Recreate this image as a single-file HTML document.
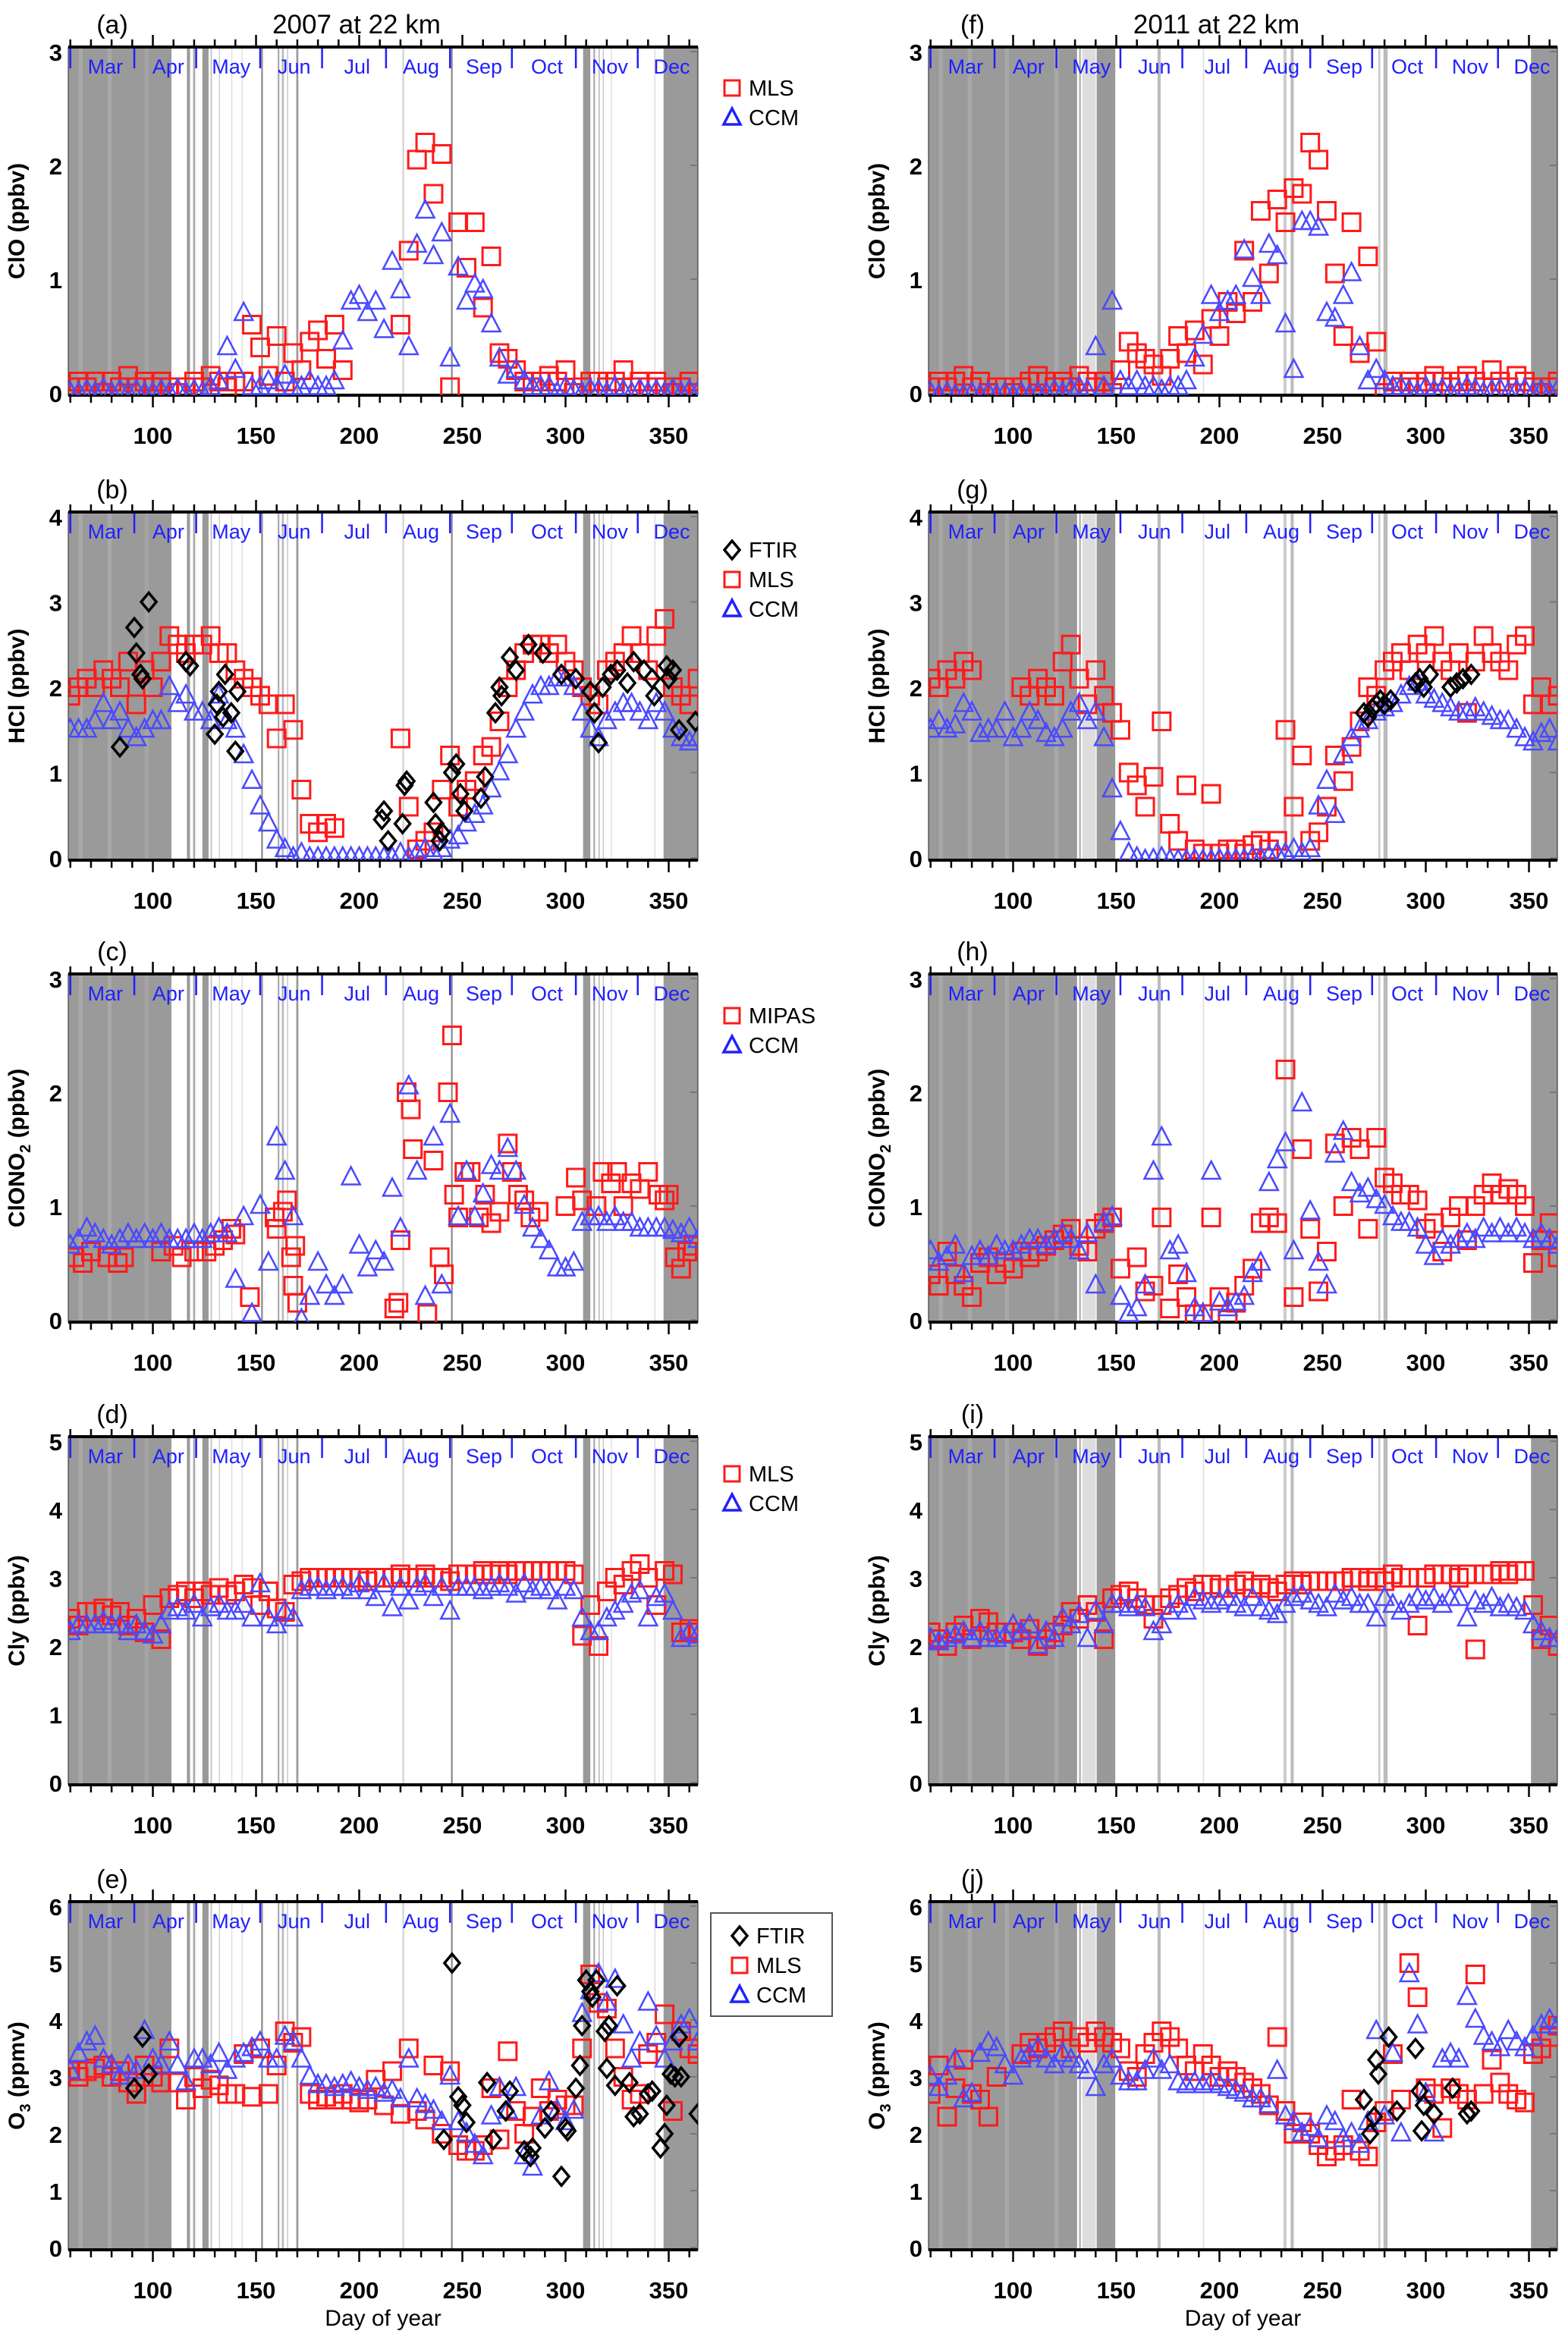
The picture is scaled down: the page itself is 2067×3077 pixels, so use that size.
<!DOCTYPE html>
<html><head><meta charset="utf-8">
<style>
html,body{margin:0;padding:0;background:#fff;}
svg{display:block;font-family:"Liberation Sans",sans-serif;}
</style></head>
<body>
<svg id="fig" xmlns="http://www.w3.org/2000/svg" width="2067" height="3077" viewBox="0 0 2067 3077">
<rect x="0" y="0" width="2067" height="3077" fill="#fff"/>
<g id="root"></g>
</svg>
<script>
// ---------- data (days start 60, step 4) ----------
const dayStart = 60;
const dayStep = 4;
// (a) ClO 2007
const cloMls07 = [0.05,0.1,0.05,0.1,0,0.1,0.05,0.15,0.05,0.1, 0.05,0.1,0.05,0,0.05,0.1,0.05,0.15,0.1,0.05, 0.1,0.1,0.6,0.4,0.15,0.5,0.1,0.35,0.2,0.45, 0.55,0.3,0.6,0.2,null,null,null,null,null,null, 0.6,1.25,2.05,2.2,1.75,2.1,0.05,1.5,1.1,1.5, 0.75,1.2,0.35,0.3,0.2,0.1,0.05,0.1,0.15,0.1, 0.2,0.0,0.05,0.1,0.1,0.05,0.1,0.2,0.05,0.1, 0.05,0.1,0.05,0.0,0.05,0.1,0.0];
const cloCcm07 = [0,0,0.02,0,0.03,0,0.02,0,0.02,0, 0,0.02,0,0.03,0,0.02,0,0.05,0.1,0.4, 0.2,0.7,0.05,0.05,0.1,0.05,0.15,0.05,0.05,0.1, 0.05,0.05,0.1,0.45,0.8,0.85,0.7,0.8,0.55,1.15, 0.9,0.4,1.3,1.6,1.2,1.4,0.3,1.1,0.8,0.95, 0.9,0.6,0.3,0.15,0.2,0.1,0.05,0.05,0.05,0, 0.05,0.02,0,0.03,0.02,0,0.05,0.02,0,0.03, 0,0.02,0,0.03,0,0.02,0];
// (b) HCl 2007
const hclMls07 = [1.9,2.0,2.1,2.0,2.2,2.1,2.0,2.3,1.8,2.2, 2.0,2.3,2.6,2.5,2.4,2.5,2.5,2.6,2.4,2.4, 2.2,2.1,2.0,1.9,1.8,1.4,1.8,1.5,0.8,0.4, 0.3,0.4,0.35,null,null,null,null,null,null,null, 1.4,0.6,0.1,0.2,0.3,0.8,1.2,0.6,0.8,0.9, 1.2,1.3,1.6,2.0,2.2,2.4,2.5,2.5,2.4,2.5, 2.3,2.2,2.0,1.9,1.8,2.2,2.3,2.4,2.6,2.4, 2.2,2.6,2.8,2.0,1.9,1.8,2.1];
const hclCcm07 = [1.5,1.5,1.5,1.6,1.8,1.6,1.7,1.5,1.4,1.5, 1.6,1.6,2.0,1.8,1.9,1.7,1.7,1.6,1.9,1.6, 1.5,1.2,0.9,0.6,0.4,0.2,0.1,0.0,0.05,0.0, 0,0,0,0,0,0,0,0,0,0, 0.05,0,0.05,0.1,0.05,0.1,0.2,0.25,0.4,0.5, 0.6,0.8,1.0,1.2,1.5,1.7,1.9,2.0,2.0,2.1, 2.1,2.0,1.7,1.5,1.4,1.6,1.7,1.8,1.8,1.7, 1.6,1.8,1.7,1.5,1.4,1.35,1.4];
const hclFtirDays07 = [84,91,92,94,95,98,116,118,130,131,132,134,135,138,140,141,211,212,214,221,222,223,236,237,239,240,245,247,249,251,259,261,266,268,269,273,276,282,289,298,305,312,314,316,318,322,325,330,333,338,342,343,349,350,352,355,363];
const hclFtirVals07 = [1.3,2.7,2.4,2.15,2.1,3.0,2.3,2.25,1.45,1.8,1.95,1.65,2.15,1.7,1.25,1.95,0.45,0.55,0.2,0.4,0.85,0.9,0.65,0.4,0.2,0.3,1.0,1.1,0.75,0.55,0.7,0.95,1.7,2.0,1.9,2.35,2.2,2.5,2.4,2.15,2.1,1.95,1.7,1.35,2.0,2.15,2.2,2.05,2.3,2.2,2.1,1.9,2.25,2.1,2.2,1.5,1.6];
// (c) ClONO2 2007
const cnMipasDays07 = [62,66,70,78,83,86,104,110,114,120,126,130,134,138,140,147,159,160,163,165,167,168,169,170,217,219,220,223,225,226,233,236,239,241,243,245,246,248,251,254,258,261,264,268,272,274,277,280,283,287,300,305,308,315,318,322,325,328,332,336,340,345,348,350,353,356,359,362];
const cnMipasVals07 = [0.55,0.5,0.6,0.55,0.5,0.55,0.6,0.65,0.55,0.6,0.6,0.65,0.7,0.8,0.75,0.2,0.9,0.8,0.95,1.05,0.55,0.3,0.65,0.15,0.1,0.15,0.7,2.0,1.85,1.5,0.05,1.4,0.55,0.4,2.0,2.5,1.1,0.9,1.3,1.3,0.9,1.1,0.85,0.95,1.55,1.3,1.1,1.05,0.9,0.95,1.0,1.25,1.05,1.0,1.3,1.2,1.3,1.0,1.2,1.15,1.3,1.1,1.05,1.1,0.55,0.45,0.6,0.65];
const cnCcm07 = [0.65,0.7,0.8,0.75,0.7,0.65,0.7,0.75,0.7,0.75, 0.7,0.75,0.7,0.7,0.7,0.75,0.7,0.75,0.8,0.75, 0.35,0.9,0.05,1.0,0.5,1.6,1.3,0.9,0.0,0.2, 0.5,0.3,0.2,0.3,1.25,0.65,0.45,0.6,0.5,1.15, 0.8,2.05,1.3,0.2,1.6,0.3,1.8,0.9,1.3,0.9, 1.1,1.35,1.3,1.5,1.3,1.0,0.8,0.7,0.6,0.45, 0.45,0.5,0.85,0.9,0.9,0.85,0.9,0.85,0.85,0.8, 0.8,0.8,0.8,0.78,0.75,0.8,0.7];
// (d) Cly 2007
const clyMls07 = [2.4,2.3,2.5,2.5,2.55,2.45,2.5,2.3,2.4,2.2, 2.6,2.1,2.7,2.75,2.8,2.7,2.8,2.75,2.85,2.75, 2.8,2.9,2.85,2.6,2.8,2.55,2.5,2.9,2.95,3.0, 3.0,3.0,3.0,3.0,3.0,3.0,2.95,3.0,3.0,3.0, 3.05,3.0,3.0,3.05,3.0,3.0,2.95,3.05,3.05,3.05, 3.1,3.05,3.1,3.05,3.1,3.1,3.1,3.1,3.1,3.1, 3.1,3.05,2.15,2.6,2.0,2.8,3.0,2.9,3.1,3.2, 3.0,2.6,3.1,3.05,2.2,2.25,2.2];
const clyCcm07 = [2.2,2.3,2.3,2.3,2.35,2.3,2.3,2.2,2.3,2.2, 2.15,2.3,2.5,2.55,2.5,2.6,2.4,2.55,2.6,2.5, 2.5,2.6,2.4,2.9,2.4,2.3,2.5,2.4,2.8,2.85, 2.85,2.8,2.85,2.85,2.8,2.9,2.8,2.7,2.9,2.55, 2.85,2.65,2.85,2.9,2.7,2.85,2.5,2.85,2.85,2.85, 2.8,2.85,2.9,2.85,2.75,2.9,2.8,2.85,2.8,2.65, 2.85,2.8,2.4,2.2,2.2,2.4,2.5,2.6,2.75,2.8, 2.4,2.7,2.75,2.5,2.1,2.2,2.15];
// (e) O3 2007
const o3Mls07 = [3.1,3.0,3.1,3.15,3.2,3.0,3.1,2.9,2.7,3.2, 3.0,2.9,3.5,2.9,2.6,3.0,2.8,2.95,2.85,2.7, 2.7,3.4,2.65,3.5,2.7,3.2,3.8,3.6,3.7,2.7, 2.6,2.65,2.6,2.7,2.6,2.55,2.6,2.95,2.5,3.1, 2.35,3.5,2.4,2.25,3.2,2.0,3.1,1.8,1.7,1.7, 1.8,2.8,1.9,3.45,2.4,2.0,2.3,2.8,2.4,2.6, 2.5,2.5,3.5,4.8,4.3,4.2,3.5,3.0,2.6,2.7, 3.4,3.6,4.1,2.4,3.8,3.5,3.4];
const o3Ccm07 = [3.1,3.4,3.6,3.7,3.3,3.2,3.0,3.2,3.1,3.8, 3.3,3.2,3.6,3.2,2.9,3.3,3.3,3.2,3.4,3.1, 3.3,3.4,3.5,3.6,3.3,3.3,3.7,3.6,3.3,3.0, 2.85,2.85,2.8,2.85,2.9,2.8,2.75,2.8,2.7,2.75, 2.6,3.3,2.6,2.5,2.4,2.2,3.0,2.2,2.0,1.8, 1.6,2.3,2.8,2.4,2.8,1.6,1.4,2.3,2.9,2.4, 2.2,2.4,4.1,4.5,4.8,4.3,4.7,3.9,3.3,3.6, 4.3,3.7,3.3,3.6,3.9,4.0,3.6];
const o3FtirDays07 = [91,95,98,245,241,248,250,252,262,265,273,271,280,283,284,290,293,298,300,301,305,307,308,310,312,313,315,319,320,321,324,325,331,333,336,340,342,346,348,349,351,353,355,356,364];
const o3FtirVals07 = [2.8,3.7,3.05,5.0,1.9,2.65,2.5,2.2,2.9,1.9,2.75,2.4,1.7,1.6,1.75,2.1,2.4,1.25,2.1,2.05,2.8,3.2,3.9,4.7,4.5,4.4,4.7,3.8,3.15,3.9,2.85,4.6,2.9,2.3,2.35,2.7,2.75,1.75,2.0,2.5,3.05,3.0,3.7,3.0,2.35];
// (f) ClO 2011
const cloMls11 = [0.05,0.1,0.05,0.1,0.15,0.05,0.1,0,0.05,0.05, 0,0.05,0.1,0.15,0.1,0.05,0.1,0.05,0.15,0.1, 0.05,0.1,0.0,0.2,0.45,0.35,0.3,0.25,0.15,0.3, 0.5,0.35,0.55,0.25,0.65,0.5,0.8,0.7,1.25,0.8, 1.6,1.05,1.7,1.5,1.8,1.75,2.2,2.05,1.6,1.05, 0.5,1.5,0.35,1.2,0.45,0.0,0.1,0.05,0.1,0.05, 0.1,0.15,0.1,0.05,0.1,0.15,0.1,0.05,0.2,0.1, 0.05,0.15,0.1,0.05,0.0,0.05,0.1];
const cloCcm11 = [0,-0.02,0,-0.02,-0.02,0,-0.02,0,-0.02,0, -0.02,0,-0.02,0,0,0.02,0,0.03,0.05,0.02, 0.4,0.05,0.8,0.1,0.05,0.1,0.05,0.05,0.02,0.05, 0.05,0.1,0.3,0.5,0.85,0.7,0.8,0.85,1.25,1.0, 0.85,1.3,1.2,0.6,0.2,1.5,1.5,1.45,0.7,0.65, 0.85,1.05,0.4,0.1,0.2,0.1,0.05,0.05,0.02,0, 0.05,0.02,0.03,0,0.02,0.05,0.03,0,0.02,0.03, 0,0.02,0.03,0,0.02,0,0.03];
// (g) HCl 2011
const hclMls11 = [2.1,2.0,2.2,2.1,2.3,2.2,null,null,null,null, null,2.0,1.9,2.1,2.0,1.9,2.3,2.5,2.1,1.8, 2.2,1.9,1.7,1.5,1.0,0.85,0.6,0.95,1.6,0.4, 0.2,0.85,0.1,0.05,0.75,0.05,0.1,0.1,0.05,0.15, 0.2,0.1,0.2,1.5,0.6,1.2,0.2,0.3,0.6,1.2, 0.9,1.3,1.6,2.0,1.9,2.2,2.3,2.4,2.2,2.5, 2.4,2.6,2.3,2.2,2.4,1.7,2.3,2.6,2.4,2.3, 2.2,2.5,2.6,1.8,2.0,1.8,1.9];
const hclCcm11 = [1.5,1.6,1.5,1.55,1.8,1.7,1.45,1.5,1.5,1.7, 1.4,1.5,1.7,1.6,1.45,1.4,1.5,1.7,1.8,1.6, 1.7,1.4,0.8,0.3,0.05,0.0,-0.03,-0.02,0,-0.03, -0.03,-0.03,-0.02,-0.03,-0.03,-0.02,-0.03,-0.02,-0.02,0, 0,0.02,0.05,0.05,0.1,0.05,0.1,0.6,0.9,0.5, 1.2,1.4,1.5,1.6,1.7,1.75,1.8,1.9,2.0,2.05, 1.9,1.85,1.8,1.75,1.7,1.7,1.75,1.7,1.65,1.6, 1.6,1.5,1.4,1.35,1.45,1.5,1.35];
const hclFtirDays11 = [270,272,274,276,278,280,283,295,297,299,302,312,315,318,322];
const hclFtirVals11 = [1.7,1.65,1.75,1.8,1.85,1.8,1.85,2.05,2.1,2.0,2.15,2.0,2.05,2.1,2.15];
// (h) ClONO2 2011
const cnMls11 = [0.4,0.3,0.6,0.4,0.3,0.2,0.5,0.55,0.4,0.5, 0.45,0.6,0.55,0.6,0.65,0.7,0.75,0.8,0.65,0.6, 0.8,0.85,0.9,0.45,null,0.55,0.25,0.3,0.9,0.1, 0.4,0.2,0.05,0.05,0.9,0.2,0.0,0.15,0.3,0.45, 0.85,0.9,0.85,2.2,0.2,1.5,0.8,0.25,0.6,1.55, 1.0,1.6,1.5,0.8,1.6,1.25,1.2,1.1,1.1,1.05, 0.8,0.85,0.6,0.9,1.0,0.7,1.0,1.1,1.2,1.1, 1.15,1.1,1.0,0.5,0.7,0.85,0.55];
const cnCcm11 = [0.6,0.5,0.55,0.65,0.4,0.55,0.6,0.55,0.65,0.6, 0.6,0.65,0.7,0.7,0.65,0.7,0.75,0.7,0.6,0.75, 0.3,0.85,0.9,0.2,0.05,0.1,0.3,1.3,1.6,0.6, 0.65,0.4,0.1,0.05,1.3,0.15,0.1,0.15,0.2,0.4, 0.5,1.2,1.4,1.55,0.6,1.9,0.95,0.5,0.3,1.45, 1.65,1.2,1.1,1.15,1.05,1.0,0.9,0.85,0.85,0.8, 0.65,0.55,0.7,0.65,0.7,0.75,0.7,0.8,0.75,0.8, 0.75,0.8,0.75,0.7,0.75,0.7,0.65];
// (i) Cly 2011
const clyMls11 = [2.2,2.1,2.0,2.2,2.3,2.1,2.4,2.35,2.2,2.2, 2.2,2.1,2.25,2.0,2.1,2.2,2.3,2.5,2.4,2.6, 2.5,2.1,2.7,2.75,2.8,2.7,2.6,2.4,2.6,2.7, 2.75,2.85,2.8,2.9,2.9,2.85,2.85,2.9,2.95,2.85, 2.9,2.85,2.8,2.9,2.95,2.9,2.95,2.95,2.95,2.95, 2.95,3.0,3.0,2.95,3.0,2.95,3.05,3.0,3.0,2.3, 3.0,3.05,3.05,3.05,3.0,3.05,1.95,3.05,3.05,3.1, 3.05,3.1,3.1,2.6,2.1,2.3,2.0];
const clyCcm11 = [2.1,2.05,2.1,2.15,2.2,2.1,2.2,2.1,2.1,2.15, 2.3,2.2,2.3,2.0,2.2,2.1,2.4,2.3,2.45,2.1, 2.5,2.3,2.6,2.6,2.55,2.6,2.55,2.2,2.3,2.5, 2.6,2.5,2.7,2.65,2.6,2.65,2.7,2.6,2.55,2.7, 2.55,2.5,2.45,2.6,2.7,2.75,2.65,2.6,2.55,2.75, 2.65,2.7,2.6,2.6,2.4,2.7,2.6,2.5,2.6,2.7, 2.65,2.7,2.6,2.7,2.7,2.4,2.65,2.6,2.7,2.55, 2.6,2.55,2.5,2.3,2.2,2.1,2.1];
// (j) O3 2011
const o3Mls11 = [2.7,3.2,2.3,2.8,3.3,2.7,2.6,2.3,3.0,null, null,3.4,3.6,3.5,3.6,3.7,3.8,3.5,3.7,3.6, 3.8,3.7,3.6,3.5,3.1,3.0,3.4,3.6,3.8,3.7, 3.5,3.2,3.1,3.4,3.2,3.0,3.1,3.0,2.9,2.8, 2.7,2.5,3.7,2.4,2.0,2.2,2.0,1.8,1.6,1.7, 1.8,2.6,1.7,1.6,2.2,2.4,3.4,2.6,5.0,4.4, 2.8,2.7,2.1,2.8,2.7,2.6,4.8,2.7,3.3,2.9, 2.7,2.6,2.55,3.4,3.5,3.7,3.9];
const o3Ccm11 = [3.0,2.8,3.0,3.3,2.6,2.7,3.4,3.6,3.5,3.2, 3.0,3.3,3.4,3.5,3.3,3.2,3.4,3.3,3.2,3.1, 2.8,3.2,3.3,3.0,2.9,2.9,3.1,3.3,3.1,3.2, 2.9,2.85,2.9,2.85,2.9,2.85,2.8,2.75,2.7,2.6, 2.6,2.5,3.1,2.3,2.2,2.0,2.1,1.9,2.3,2.2, 1.9,2.0,1.8,2.2,3.8,2.3,3.4,2.0,4.8,3.9, 2.7,2.0,3.3,3.4,3.3,4.4,4.0,3.7,3.6,3.5, 3.8,3.6,3.5,3.7,3.9,4.0,3.9];
const o3FtirDays11 = [270,273,275,276,277,282,286,295,297,298,299,304,313,320,322];
const o3FtirVals11 = [2.6,2.0,2.3,3.3,3.05,3.7,2.4,3.5,2.75,2.05,2.5,2.35,2.8,2.35,2.4];

// ---------- axis / month config ----------
const xTickLabels = [100,150,200,250,300,350];
const monthStarts = [60,91,121,152,182,213,244,274,305,335,365];
const monthNames = ["Mar","Apr","May","Jun","Jul","Aug","Sep","Oct","Nov","Dec"];
const shade07 = [[59,109,'#9a9a9a'],[64,66,'#a8a8a8'],[78,80,'#a8a8a8'],[96,98,'#a4a4a4'],[116.5,118,'#999'],[119.5,120.5,'#aaa'],[124,127,'#999'],[128,128.6,'#bbb'],[132,132.5,'#ccc'],[138,138.5,'#ddd'],[143,143.5,'#ddd'],[152.5,153.3,'#888'],[160.5,161.3,'#aaa'],[162.5,163.5,'#bbb'],[165,165.6,'#ccc'],[169.5,170.5,'#999'],[221,221.7,'#ccc'],[244.5,245.3,'#888'],[308.5,312,'#999'],[313.5,314.3,'#aaa'],[316,316.6,'#bbb'],[318,318.6,'#ccc'],[322,322.5,'#ddd'],[343,343.6,'#ddd'],[347.5,366,'#9a9a9a']];
const shade11 = [[59,131,'#9a9a9a'],[64,66,'#a8a8a8'],[78,80,'#a8a8a8'],[96,98,'#a8a8a8'],[120,122,'#a8a8a8'],[132,132.8,'#aaa'],[133.5,140,'#ddd'],[140.5,149.5,'#999'],[170,171.5,'#bbb'],[192,192.6,'#ddd'],[231,232.5,'#ccc'],[234.5,236,'#bbb'],[277,278,'#ccc'],[279.5,281.5,'#bbb'],[351,366,'#9a9a9a']];

const NS = "http://www.w3.org/2000/svg";
const root = document.getElementById('root');
function mk(tag, attrs, parent){
  const e = document.createElementNS(NS, tag);
  for (const k in attrs) e.setAttribute(k, attrs[k]);
  (parent||root).appendChild(e);
  return e;
}
const rowTops = [62,675,1284,1894,2507];
const PH = 459;
const cols = [{x0:90,x1:920},{x0:1224,x1:2053}];
const PXD = 2.72;

function seqDays(n){ const d=[]; for(let i=0;i<n;i++) d.push(dayStart+i*dayStep); return d; }

function panel(opt){
  const c = cols[opt.col], T = rowTops[opt.row], B = T+PH;
  const xs = d => c.x0 + (d-59)*PXD;
  const ys = v => T + 6 + (opt.max - v)/opt.max*450;
  const g = mk('g', {});
  
  
  const cp = 'clip-'+opt.id;
  const cpe = mk('clipPath', {id:cp}, g);
  mk('rect', {x:c.x0, y:T, width:c.x1-c.x0, height:PH}, cpe);
  const sg = mk('g', {'clip-path':'url(#'+cp+')'}, g);
  
  
  for (const s of opt.shade){
    const r = mk('rect', {x:xs(s[0]), y:T, width:Math.max(1,(s[1]-s[0])*PXD), height:PH, fill:s[2]}, sg);
    
    
  }
  for (let i=0;i<monthStarts.length;i++){
    const xm = xs(monthStarts[i]);
    if (monthStarts[i] < 365){
      const l = mk('line', {x1:xm, y1:T+2, x2:xm, y2:T+28, stroke:'#2020ff', 'stroke-width':2.5}, g);
      
      
    }
    if (i < monthNames.length){
      const t = mk('text', {x:xs((monthStarts[i]+monthStarts[i+1])/2)+4, y:T+35, fill:'#2020ff', 'font-size':27, 'text-anchor':'middle'}, g);
      t.textContent = monthNames[i];
      
      
    }
  }
  const fr = mk('rect', {x:c.x0, y:T, width:c.x1-c.x0, height:PH, fill:'none', stroke:'#222', 'stroke-width':1}, g);
  
  
  const tl = mk('line', {x1:c.x0, y1:T, x2:c.x1, y2:T, stroke:'#000', 'stroke-width':4}, g);
  
  
  const bl = mk('line', {x1:c.x0, y1:B, x2:c.x1, y2:B, stroke:'#000', 'stroke-width':4}, g);
  
  
  for (let d=60; d<=360; d+=10){
    const maj = d%50===0, len = maj?16:10, xx = xs(d);
    const t1 = mk('line', {x1:xx, y1:T, x2:xx, y2:T-len, stroke:'#000', 'stroke-width':2.5}, g);
    
    
    const t2 = mk('line', {x1:xx, y1:B, x2:xx, y2:B+len, stroke:'#000', 'stroke-width':2.5}, g);
    
    
  }
  for (const v of xTickLabels){
    const t = mk('text', {x:xs(v), y:B+64, 'font-size':31, 'font-weight':'bold', 'text-anchor':'middle'}, g);
    t.textContent = v;
    
    
  }
  for (let v=0; v<=opt.max; v++){
    const t = mk('text', {x:c.x0-8, y:ys(v)+12, 'font-size':31, 'font-weight':'bold', 'text-anchor':'end'}, g);
    t.textContent = v;
    
    
    const tk = mk('line', {x1:c.x1, y1:ys(v), x2:c.x1-10, y2:ys(v), stroke:'#777', 'stroke-width':2}, g);
    
    
  }
  const yt = mk('text', {x:0, y:0, 'font-size':30, 'font-weight':'bold', 'text-anchor':'middle', transform:'translate('+(c.x0-58)+','+(T+PH/2)+') rotate(-90)'}, g);
  yt.innerHTML = opt.ylab;
  
  
  const pl = mk('text', {x:c.x0+58, y:T-18, 'font-size':34, 'text-anchor':'middle'}, g);
  pl.textContent = '('+opt.id+')';
  
  
  if (opt.title){
    const tt = mk('text', {x:(c.x0+c.x1)/2-35, y:T-18, 'font-size':35, 'text-anchor':'middle'}, g);
    tt.textContent = opt.title;
    
    
  }
  if (opt.xlab){
    const xl = mk('text', {x:(c.x0+c.x1)/2, y:B+100, 'font-size':30, 'text-anchor':'middle'}, g);
    xl.textContent = 'Day of year';
    
    
  }
  const mg = mk('g', {'clip-path':'url(#'+cp+')'}, g);
  
  
  function sq(d,v){ const s=mk('rect',{x:xs(d)-11.5,y:ys(v)-11.5,width:23,height:23,fill:'none',stroke:'#ff1a1a','stroke-width':3},mg);
    
     }
  function tri(d,v){ const x=xs(d),y=ys(v); const p=mk('polygon',{points:(x)+','+(y-14)+' '+(x-12)+','+(y+9)+' '+(x+12)+','+(y+9),fill:'none',stroke:'#4a4aff','stroke-width':2.5},mg);
    
     }
  function dia(d,v){ const x=xs(d),y=ys(v); const p=mk('polygon',{points:x+','+(y-12)+' '+(x+10)+','+y+' '+x+','+(y+12)+' '+(x-10)+','+y,fill:'none',stroke:'#000','stroke-width':3.5},mg);
    
     }
  if (opt.red){ const dd = opt.redDays || seqDays(opt.red.length); opt.red.forEach((v,i)=>{ if(v!==null) sq(dd[i],v); }); }
  if (opt.blue){ const dd = seqDays(opt.blue.length); opt.blue.forEach((v,i)=>{ if(v!==null) tri(dd[i],v); }); }
  if (opt.black){ opt.black.forEach((v,i)=>dia(opt.blackDays[i],v)); }
  if (opt.legend){
    const lg = mk('g', {}, g);
    
    
    let ly = T + opt.legend.y0, lx = opt.legend.x;
    if (opt.legend.box){
      const bx = mk('rect', {x:937, y:2522, width:160, height:136, fill:'#fff', stroke:'#555', 'stroke-width':2}, lg);
      
      
    }
    for (const it of opt.legend.items){
      const x=lx, y=ly;
      let m;
      if (it[0]==='sq') m = mk('rect',{x:x-10,y:y-10,width:20,height:20,fill:'none',stroke:'#ff1a1a','stroke-width':3},lg);
      else if (it[0]==='tri') m = mk('polygon',{points:x+','+(y-12)+' '+(x-11)+','+(y+9)+' '+(x+11)+','+(y+9),fill:'none',stroke:'#2020ff','stroke-width':3.5},lg);
      else m = mk('polygon',{points:x+','+(y-12)+' '+(x+10)+','+y+' '+x+','+(y+12)+' '+(x-10)+','+y,fill:'none',stroke:'#000','stroke-width':3.5},lg);
      
      
      const t = mk('text', {x:x+22, y:y+10, 'font-size':29}, lg);
      t.textContent = it[1];
      
      
      ly += 39;
    }
  }
}
const L2 = [['sq','MLS'],['tri','CCM']];
const L3 = [['dia','FTIR'],['sq','MLS'],['tri','CCM']];
panel({id:'a', col:0,row:0,max:3,ylab:'ClO  (ppbv)',title:'2007 at 22 km',shade:shade07,red:cloMls07,blue:cloCcm07,legend:{x:965,y0:54,items:L2}});
panel({id:'b', col:0,row:1,max:4,ylab:'HCl  (ppbv)',shade:shade07,red:hclMls07,blue:hclCcm07,black:hclFtirVals07,blackDays:hclFtirDays07,legend:{x:965,y0:50,items:L3}});
panel({id:'c', col:0,row:2,max:3,ylab:'ClONO<tspan font-size="20" dy="8">2</tspan><tspan dy="-8">  (ppbv)</tspan>',shade:shade07,red:cnMipasVals07,redDays:cnMipasDays07,blue:cnCcm07,legend:{x:965,y0:55,items:[['sq','MIPAS'],['tri','CCM']]}});
panel({id:'d', col:0,row:3,max:5,ylab:'Cly  (ppbv)',shade:shade07,red:clyMls07,blue:clyCcm07,legend:{x:965,y0:49,items:L2}});
panel({id:'e', col:0,row:4,max:6,ylab:'O<tspan font-size="20" dy="8">3</tspan><tspan dy="-8">  (ppmv)</tspan>',xlab:true,shade:shade07,red:o3Mls07,blue:o3Ccm07,black:o3FtirVals07,blackDays:o3FtirDays07,legend:{x:975,y0:45,box:true,items:L3}});
panel({id:'f', col:1,row:0,max:3,ylab:'ClO  (ppbv)',title:'2011 at 22 km',shade:shade11,red:cloMls11,blue:cloCcm11});
panel({id:'g', col:1,row:1,max:4,ylab:'HCl  (ppbv)',shade:shade11,red:hclMls11,blue:hclCcm11,black:hclFtirVals11,blackDays:hclFtirDays11});
panel({id:'h', col:1,row:2,max:3,ylab:'ClONO<tspan font-size="20" dy="8">2</tspan><tspan dy="-8">  (ppbv)</tspan>',shade:shade11,red:cnMls11,blue:cnCcm11});
panel({id:'i', col:1,row:3,max:5,ylab:'Cly  (ppbv)',shade:shade11,red:clyMls11,blue:clyCcm11});
panel({id:'j', col:1,row:4,max:6,ylab:'O<tspan font-size="20" dy="8">3</tspan><tspan dy="-8">  (ppmv)</tspan>',xlab:true,shade:shade11,red:o3Mls11,blue:o3Ccm11,black:o3FtirVals11,blackDays:o3FtirDays11});
</script>
</body></html>
